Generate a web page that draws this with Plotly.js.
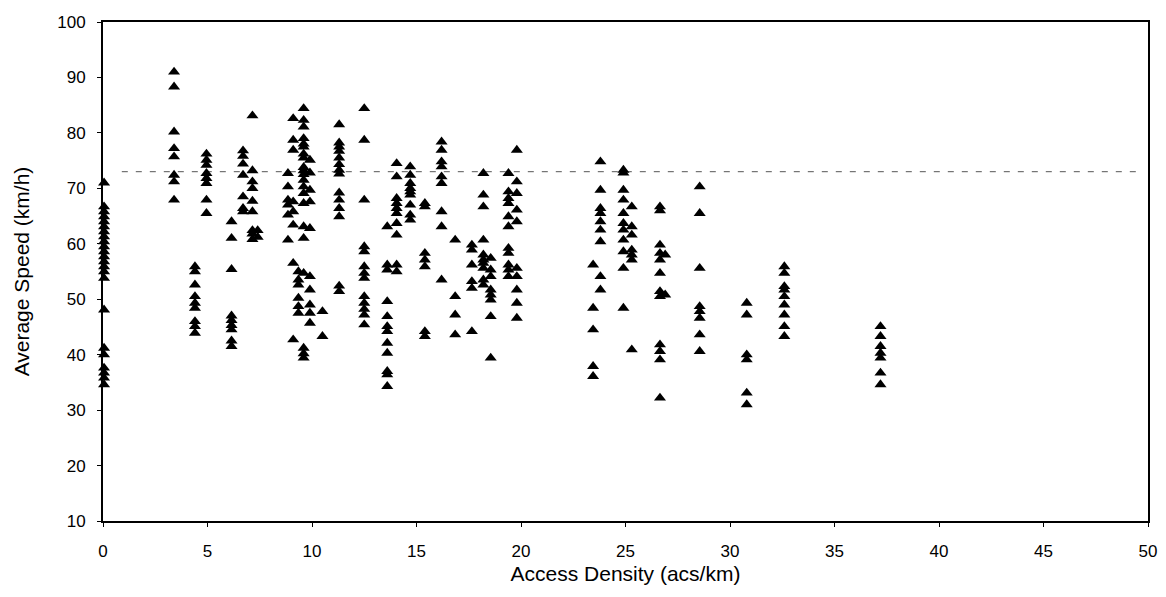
<!DOCTYPE html>
<html>
<head>
<meta charset="utf-8">
<script src="https://cdn.plot.ly/plotly-3.0.1.min.js"></script>
<style>html,body{margin:0;padding:0;background:#fff;}#chart{width:1166px;height:597px;}</style>
</head>
<body>
<div id="chart"></div>
<script>
// Access density (acs/km) of each observed group of segments
const densityGroups = [0.05, 3.4, 4.4, 4.95, 6.15, 6.7, 7.15, 7.4, 8.85, 9.1, 9.35, 9.6, 9.9, 10.5, 11.3, 12.5, 13.6, 14.05, 14.7, 15.4, 16.2, 16.85, 17.65, 18.2, 18.55, 19.4, 19.8, 23.45, 23.8, 24.9, 25.3, 26.65, 26.9, 28.55, 30.8, 32.6, 37.2];
// Average speed (km/h) observed at each density group
const speedGroups = [
  [71.0, 66.7, 65.8, 64.9, 64.0, 63.1, 62.2, 61.3, 60.4, 59.5, 58.6, 57.7, 56.8, 55.9, 55.0, 53.8, 48.1, 41.2, 40.0, 37.6, 36.7, 35.8, 34.6],
  [91.0, 88.3, 80.2, 77.2, 75.7, 72.4, 71.2, 67.9],
  [55.9, 55.0, 52.6, 50.5, 49.3, 48.4, 46.0, 45.1, 43.9],
  [76.2, 75.1, 74.2, 72.7, 71.8, 70.9, 67.9, 65.5],
  [64.0, 61.0, 55.4, 47.0, 46.2, 45.3, 44.5, 42.5, 41.5],
  [76.8, 75.8, 74.4, 72.4, 68.5, 66.4, 65.8],
  [83.1, 73.2, 71.2, 70.0, 67.7, 65.8, 62.4, 61.8, 60.8],
  [62.4, 61.2],
  [72.7, 70.3, 67.9, 67.0, 65.2, 60.7],
  [82.6, 78.7, 76.9, 67.6, 65.8, 63.4, 56.5, 42.7],
  [55.0, 53.5, 52.6, 50.2, 48.7, 47.5],
  [84.4, 82.3, 81.1, 79.0, 78.0, 77.5, 76.2, 75.5, 73.8, 73.2, 72.5, 71.5, 70.3, 69.1, 67.3, 63.1, 61.0, 54.7, 41.2, 40.2, 39.4],
  [75.1, 72.8, 69.7, 67.6, 62.8, 54.1, 51.7, 49.0, 47.5, 45.7],
  [47.8, 43.3],
  [81.5, 78.2, 77.5, 76.7, 75.5, 74.3, 73.3, 72.6, 69.2, 67.9, 66.4, 64.9, 52.4, 51.4],
  [84.4, 78.7, 67.9, 59.5, 58.6, 55.9, 54.7, 53.8, 50.5, 49.3, 48.2, 47.2, 45.4],
  [63.1, 56.2, 55.3, 49.6, 46.9, 45.1, 44.2, 42.1, 40.3, 37.0, 36.4, 34.3],
  [74.5, 72.1, 68.2, 67.3, 66.4, 65.5, 63.7, 61.6, 56.2, 55.0],
  [73.9, 72.4, 70.9, 70.0, 69.4, 68.8, 67.0, 65.2, 64.3],
  [67.3, 66.7, 58.3, 57.1, 55.9, 44.2, 43.3],
  [78.4, 76.9, 74.8, 73.9, 72.1, 70.9, 65.8, 63.1, 53.5],
  [60.7, 50.5, 47.2, 43.6],
  [59.8, 58.9, 56.2, 53.2, 52.0, 44.2],
  [72.7, 68.8, 66.7, 60.7, 58.0, 57.1, 56.5, 55.6, 53.5, 52.6],
  [57.4, 55.3, 54.1, 51.7, 50.8, 49.9, 46.9, 39.4],
  [72.7, 69.4, 68.2, 67.3, 64.9, 63.1, 59.2, 58.3, 56.2, 55.3, 54.1],
  [76.9, 71.2, 69.1, 66.1, 64.0, 55.6, 54.1, 51.7, 49.3, 46.6],
  [56.2, 48.4, 44.5, 37.9, 36.1],
  [74.8, 69.7, 66.4, 65.5, 64.0, 62.5, 60.4, 54.1, 51.7],
  [73.3, 72.8, 69.7, 67.9, 65.5, 63.7, 62.5, 60.7, 58.6, 55.6, 48.4],
  [66.7, 63.1, 61.6, 58.9, 58.0, 57.1, 40.9],
  [66.7, 66.0, 59.8, 58.3, 57.1, 54.7, 51.4, 50.5, 41.8, 40.6, 39.1, 32.2],
  [58.0, 50.8],
  [70.3, 65.5, 55.6, 48.7, 47.8, 46.6, 43.6, 40.6],
  [49.3, 47.2, 40.0, 39.1, 33.1, 31.0],
  [55.9, 54.7, 52.3, 51.7, 50.5, 49.0, 47.2, 45.1, 43.3],
  [45.1, 43.3, 41.5, 40.3, 39.4, 36.7, 34.6]
];
// Reference speed line (dashed)
const refLineX = [0.9, 49.6];
const refLineY = [73, 73];
const xTickVals = [0, 5, 10, 15, 20, 25, 30, 35, 40, 45, 50];
const yTickVals = [10, 20, 30, 40, 50, 60, 70, 80, 90, 100];

const xs = [], ys = [];
densityGroups.forEach((d, i) => {
  speedGroups[i].forEach(v => { xs.push(d); ys.push(v); });
});

const font = "Liberation Sans, Arial, sans-serif";
const traces = [
  {
    x: refLineX, y: refLineY, type: 'scatter', mode: 'lines',
    line: {color: '#555', width: 1, dash: '6px,8px'},
    hoverinfo: 'skip', showlegend: false
  },
  {
    x: xs, y: ys, type: 'scatter', mode: 'markers',
    marker: {symbol: 'triangle-up', size: 10.5, color: '#000'},
    cliponaxis: false, showlegend: false
  }
];

const layout = {
  width: 1166, height: 597,
  margin: {l: 103, r: 18, t: 22, b: 76},
  paper_bgcolor: '#fff', plot_bgcolor: '#fff',
  font: {family: font, color: '#000', size: 17},
  showlegend: false,
  xaxis: {
    range: [0, 50], tickvals: xTickVals, ticktext: xTickVals.map(String),
    showgrid: false, zeroline: false,
    showline: true, linecolor: '#000', linewidth: 2, mirror: true,
    ticks: 'outside', ticklen: 4, tickcolor: '#000', tickwidth: 1,
    ticklabelstandoff: 10,
    tickfont: {family: font, size: 17, color: '#000'},
    title: {text: 'Access Density (acs/km)', font: {family: font, size: 21, color: '#000'}, standoff: 6}
  },
  yaxis: {
    range: [10, 100], tickvals: yTickVals, ticktext: yTickVals.map(String),
    showgrid: false, zeroline: false,
    showline: true, linecolor: '#000', linewidth: 2, mirror: true,
    ticks: 'outside', ticklen: 4, tickcolor: '#000', tickwidth: 1,
    ticklabelstandoff: 8,
    tickfont: {family: font, size: 17, color: '#000'},
    title: {text: 'Average Speed (km/h)', font: {family: font, size: 21, color: '#000'}, standoff: 22}
  }
};

Plotly.newPlot('chart', traces, layout, {displayModeBar: false, staticPlot: true});
</script>
</body>
</html>
